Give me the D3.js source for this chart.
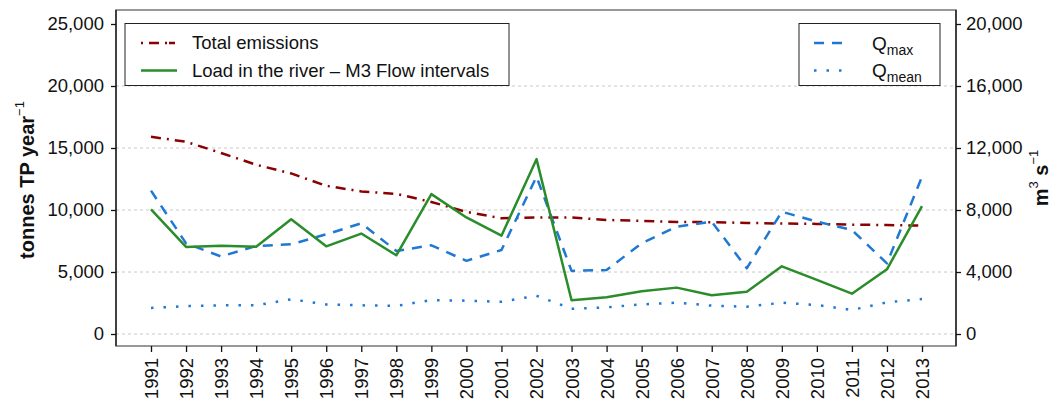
<!DOCTYPE html>
<html>
<head>
<meta charset="utf-8">
<script src="https://cdn.jsdelivr.net/npm/d3@7"></script>
<style>
  body { margin: 0; background: #fff; }
  text { font-family: "Liberation Sans", Arial, Helvetica, sans-serif; fill: #111; }
</style>
</head>
<body>
<svg id="chart" width="1059" height="403"></svg>
<script>
const years = d3.range(1991, 2014);
const totalEmissions = [15900, 15500, 14600, 13650, 12950, 11950, 11500, 11300, 10650, 9850, 9330, 9400, 9400,
  9200, 9120, 9040, 9020, 8960, 8910, 8880, 8820, 8790, 8740];
const riverLoad = [10050, 7020, 7120, 7040, 9250, 7070, 8100, 6350, 11280, 9400, 7930, 14100, 2720,
  2960, 3440, 3740, 3120, 3410, 5460, 4360, 3250, 5220, 10320];
const qMax = [9250, 5850, 5000, 5680, 5790, 6430, 7140, 5360, 5720, 4720, 5420, 10150, 4070,
  4130, 5850, 6920, 7250, 4240, 7890, 7250, 6710, 4560, 10150];
const qMean = [1680, 1800, 1850, 1850, 2240, 1910, 1850, 1810, 2190, 2150, 2080, 2470, 1630,
  1720, 1910, 2020, 1830, 1760, 2020, 1870, 1550, 2040, 2260];
const leftTicks = [0, 5000, 10000, 15000, 20000, 25000];
const rightTicks = [0, 4000, 8000, 12000, 16000, 20000];

const BOX = { left: 116, right: 956, top: 10, bottom: 346 };
const RED = '#8b0000';
const GREEN = '#2a8c2a';
const BLUE = '#1f78d2';

const svg = d3.select('#chart');

const x = d3.scaleLinear().domain([1991, 2013]).range([151, 922]);
const yL = d3.scaleLinear().domain([0, 25000]).range([334, 24]);
const yR = d3.scaleLinear().domain([0, 20000]).range([334, 24]);
const fmt = d3.format(',');

// Grid
svg.append('g')
  .selectAll('line')
  .data(leftTicks.filter(d => d < 25000))
  .join('line')
  .attr('x1', BOX.left).attr('x2', BOX.right)
  .attr('y1', d => yL(d)).attr('y2', d => yL(d))
  .attr('stroke', '#c8c8c8')
  .attr('stroke-width', 1)
  .attr('stroke-dasharray', '3,3');

// Box
svg.append('rect')
  .attr('x', BOX.left).attr('y', BOX.top)
  .attr('width', BOX.right - BOX.left).attr('height', BOX.bottom - BOX.top)
  .attr('fill', 'none').attr('stroke', '#777').attr('stroke-width', 1.5);

// Axes
const leftAxis = svg.append('g')
  .attr('transform', `translate(${BOX.left},0)`)
  .call(d3.axisLeft(yL).tickValues(leftTicks).tickFormat(fmt).tickSize(5).tickPadding(7));
leftAxis.select('.domain').attr('d', `M0,${BOX.top}V${BOX.bottom}`);

const rightAxis = svg.append('g')
  .attr('transform', `translate(${BOX.right},0)`)
  .call(d3.axisRight(yR).tickValues(rightTicks).tickFormat(fmt).tickSize(5).tickPadding(5));
rightAxis.select('.domain').attr('d', `M0,${BOX.top}V${BOX.bottom}`);

const bottomAxis = svg.append('g')
  .attr('transform', `translate(0,${BOX.bottom})`)
  .call(d3.axisBottom(x).tickValues(years).tickFormat(d3.format('d')).tickSize(6));
bottomAxis.select('.domain').remove();
bottomAxis.selectAll('text')
  .attr('transform', 'rotate(-90)')
  .attr('text-anchor', 'end')
  .attr('x', -12)
  .attr('y', 0)
  .attr('dy', '0.35em');

svg.selectAll('.tick text').style('font-size', '18.5px').style('font-family', '"Liberation Sans", Arial, sans-serif').attr('fill', '#111');
svg.selectAll('.tick line, .domain').attr('stroke', '#111').attr('stroke-width', 1.3);

// Axis titles
const yTitle = svg.append('text')
  .attr('transform', `translate(34,${(BOX.top + BOX.bottom) / 2 + 2}) rotate(-90)`)
  .attr('text-anchor', 'middle')
  .style('font-size', '20px').style('font-weight', 'bold');
yTitle.append('tspan').text('tonnes TP year');
yTitle.append('tspan').text('\u22121').attr('dy', -10).style('font-size', '13px').style('font-weight', 'normal');

const rTitle = svg.append('text')
  .attr('transform', `translate(1048,${(BOX.top + BOX.bottom) / 2}) rotate(-90)`)
  .attr('text-anchor', 'middle')
  .style('font-size', '20px').style('font-weight', 'bold');
rTitle.append('tspan').text('m');
rTitle.append('tspan').text('3').attr('dy', -10).style('font-size', '13px').style('font-weight', 'normal');
rTitle.append('tspan').text(' s').attr('dy', 10);
rTitle.append('tspan').text('\u22121').attr('dy', -10).style('font-size', '13px').style('font-weight', 'normal');

// Lines
const lineL = d3.line().x((d, i) => x(years[i])).y(d => yL(d));
const lineR = d3.line().x((d, i) => x(years[i])).y(d => yR(d));

const series = [
  { data: totalEmissions, gen: lineL, color: RED, dash: '10,6,2,6', width: 2.5 },
  { data: qMax, gen: lineR, color: BLUE, dash: '10,8', width: 2.5 },
  { data: qMean, gen: lineR, color: BLUE, dash: '2.5,10', width: 2.5 },
  { data: riverLoad, gen: lineL, color: GREEN, dash: null, width: 2.5 }
];

svg.append('g')
  .selectAll('path')
  .data(series)
  .join('path')
  .attr('d', d => d.gen(d.data))
  .attr('fill', 'none')
  .attr('stroke', d => d.color)
  .attr('stroke-width', d => d.width)
  .attr('stroke-dasharray', d => d.dash)
  .attr('stroke-linejoin', 'round');

// Legend left
const legL = svg.append('g');
legL.append('rect')
  .attr('x', 125).attr('y', 23.5).attr('width', 384).attr('height', 62)
  .attr('fill', '#fff').attr('stroke', '#222').attr('stroke-width', 1);
const legLItems = [
  { label: 'Total emissions', color: RED, dash: '2,6,10,6,2' },
  { label: 'Load in the river \u2013 M3 Flow intervals', color: GREEN, dash: null }
];
legLItems.forEach((d, i) => {
  const cy = 43 + i * 27.5;
  legL.append('line')
    .attr('x1', 141).attr('x2', 177).attr('y1', cy).attr('y2', cy)
    .attr('stroke', d.color).attr('stroke-width', 2.5).attr('stroke-dasharray', d.dash);
  legL.append('text').attr('x', 192).attr('y', cy).attr('dy', '0.35em')
    .style('font-size', '18.5px').text(d.label);
});

// Legend right
const legR = svg.append('g');
legR.append('rect')
  .attr('x', 799).attr('y', 23.5).attr('width', 141).attr('height', 62)
  .attr('fill', '#fff').attr('stroke', '#222').attr('stroke-width', 1);
const legRItems = [
  { sub: 'max', dash: '10,8' },
  { sub: 'mean', dash: '2.5,10' }
];
legRItems.forEach((d, i) => {
  const cy = 43 + i * 27.5;
  legR.append('line')
    .attr('x1', 814).attr('x2', 847).attr('y1', cy).attr('y2', cy)
    .attr('stroke', BLUE).attr('stroke-width', 2.5).attr('stroke-dasharray', d.dash);
  const t = legR.append('text').attr('x', 872).attr('y', cy).attr('dy', '0.35em')
    .style('font-size', '19px');
  t.append('tspan').text('Q');
  t.append('tspan').text(d.sub).attr('dy', 5).style('font-size', '14px');
});
</script>
</body>
</html>
